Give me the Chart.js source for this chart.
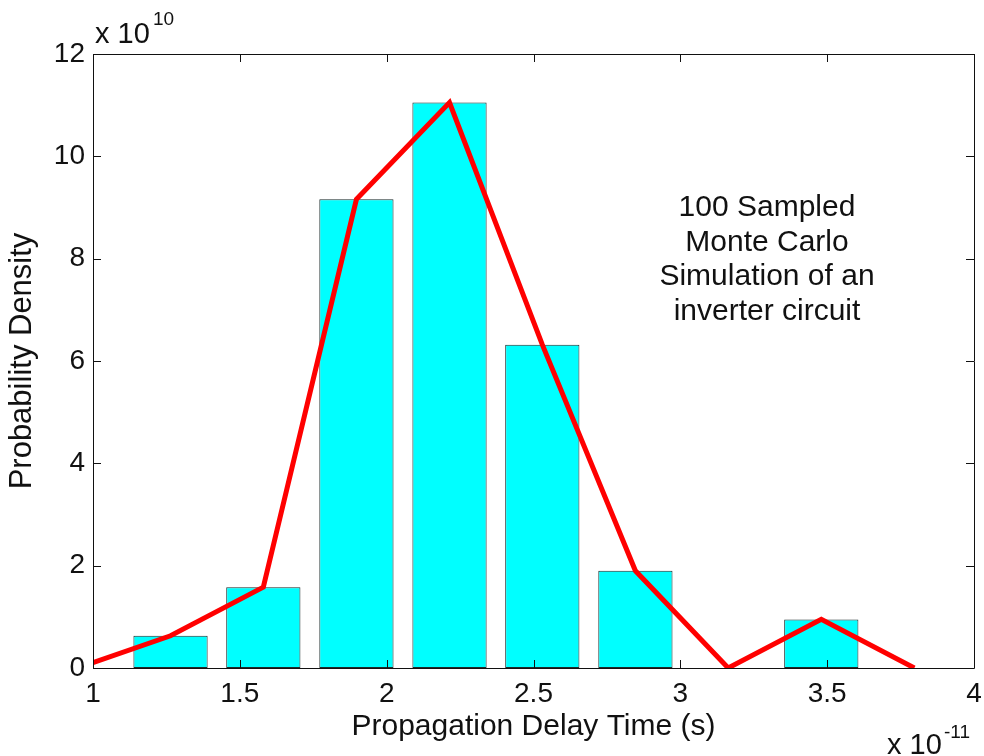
<!DOCTYPE html>
<html>
<head>
<meta charset="utf-8">
<script src="https://cdn.jsdelivr.net/npm/chart.js@4"></script>
<style>
  body { margin: 0; background: #fff; }
  #wrap { width: 984px; height: 756px; }
</style>
</head>
<body>
<div id="wrap"><canvas id="c" width="984" height="756"></canvas></div>
<script>
// histogram of 100 Monte Carlo samples (density in units of 1e10, delay in 1e-11 s)
const binCenters = [1.264, 1.580, 1.897, 2.214, 2.530, 2.847, 3.163, 3.480];
const density = [0.63, 1.58, 9.16, 11.05, 6.32, 1.90, 0, 0.95];

// fitted curve through bin tops, padded with an empty bin on each side
const curveX = [0.947, 1.264, 1.580, 1.897, 2.214, 2.530, 2.847, 3.163, 3.480, 3.797];
const curveY = [0, 0.63, 1.58, 9.16, 11.05, 6.32, 1.90, 0, 0.95, 0];

const xTicks = [1, 1.5, 2, 2.5, 3, 3.5, 4];
const yTicks = [0, 2, 4, 6, 8, 10, 12];

const noteLines = ['100 Sampled', 'Monte Carlo', 'Simulation of an', 'inverter circuit'];

const FONT = '"Liberation Sans", Arial, sans-serif';
const INK = '#111';

const boxPlugin = {
    id: 'matlabBox',
    afterDraw(chart) {
        const ctx = chart.ctx;
        const a = chart.chartArea;
        const xs = chart.scales.x, ys = chart.scales.y;
        const tl = 8;
        ctx.save();
        ctx.strokeStyle = INK;
        ctx.lineWidth = 1;
        ctx.beginPath();
        ctx.rect(Math.round(a.left) + 0.5, Math.round(a.top) + 0.5,
                 Math.round(a.right - a.left), Math.round(a.bottom - a.top));
        xTicks.forEach(v => {
            const px = Math.round(xs.getPixelForValue(v)) + 0.5;
            ctx.moveTo(px, a.bottom); ctx.lineTo(px, a.bottom - tl);
            ctx.moveTo(px, a.top); ctx.lineTo(px, a.top + tl);
        });
        yTicks.forEach(v => {
            const py = Math.round(ys.getPixelForValue(v)) + 0.5;
            ctx.moveTo(a.left, py); ctx.lineTo(a.left + tl, py);
            ctx.moveTo(a.right, py); ctx.lineTo(a.right - tl, py);
        });
        ctx.stroke();

        // exponent labels
        ctx.fillStyle = INK;
        ctx.textAlign = 'left';
        ctx.textBaseline = 'alphabetic';
        ctx.font = '29px ' + FONT;
        ctx.fillText('x 10', 95, 43);
        ctx.fillText('x 10', 887, 754);
        ctx.font = '19px ' + FONT;
        ctx.fillText('10', 153, 25);
        ctx.fillText('-11', 944, 738);

        // annotation
        ctx.font = '30px ' + FONT;
        ctx.textAlign = 'center';
        noteLines.forEach((t, i) => ctx.fillText(t, 767, 216 + i * 34.7));
        ctx.restore();
    }
};

new Chart(document.getElementById('c'), {
    data: {
        datasets: [
            {
                type: 'line',
                data: curveX.map((x, i) => ({ x: x, y: curveY[i] })),
                borderColor: '#ff0000',
                borderWidth: 5,
                borderJoinStyle: 'miter',
                pointRadius: 0,
                tension: 0,
                order: 0
            },
            {
                type: 'bar',
                data: binCenters.map((x, i) => ({ x: x, y: density[i] })),
                backgroundColor: '#00ffff',
                borderColor: '#1c2b2b',
                borderWidth: 1,
                borderSkipped: false,
                categoryPercentage: 1,
                barPercentage: 0.8,
                order: 1
            }
        ]
    },
    options: {
        responsive: false,
        animation: false,
        layout: { padding: { left: 0, top: 54, right: 10, bottom: 0 } },
        plugins: { legend: { display: false }, tooltip: { enabled: false } },
        scales: {
            x: {
                type: 'linear',
                offset: false,
                min: 1, max: 4,
                afterBuildTicks: s => { s.ticks = xTicks.map(v => ({ value: v })); },
                afterFit: s => { s.height = 88; s.paddingRight = 0; },
                grid: { display: false, drawTicks: false },
                border: { display: false },
                ticks: { color: INK, padding: 9, font: { family: FONT, size: 28 }, callback: v => String(v) },
                title: {
                    display: true, text: 'Propagation Delay Time (s)', color: INK,
                    font: { family: FONT, size: 30 }, padding: { top: 0, bottom: 11 }
                }
            },
            y: {
                min: 0, max: 12,
                afterBuildTicks: s => { s.ticks = yTicks.map(v => ({ value: v })); },
                afterFit: s => { s.width = 93; },
                grid: { display: false, drawTicks: false },
                border: { display: false },
                ticks: { color: INK, padding: 8, font: { family: FONT, size: 28 }, callback: v => String(v) },
                title: {
                    display: true, text: 'Probability Density', color: INK,
                    font: { family: FONT, size: 31 }, padding: { top: 4, bottom: 0 }
                }
            }
        }
    },
    plugins: [boxPlugin]
});
</script>
</body>
</html>
